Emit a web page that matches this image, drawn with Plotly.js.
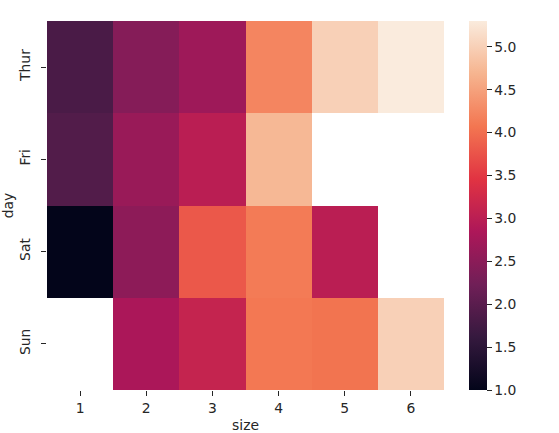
<!DOCTYPE html>
<html>
<head>
<meta charset="utf-8">
<script src="https://cdn.plot.ly/plotly-3.0.1.min.js"></script>
<style>html,body{margin:0;padding:0;background:#fff;}#chart{width:559px;height:433px;}</style>
</head>
<body>
<div id="chart"></div>
<script>
var days = ['Thur', 'Fri', 'Sat', 'Sun'];
var sizes = [1, 2, 3, 4, 5, 6];
var tipThur = [1.83, 2.44, 2.69, 4.22, 5.00, 5.30];
var tipFri  = [1.92, 2.64, 3.00, 4.73, null, null];
var tipSat  = [1.00, 2.52, 3.80, 4.12, 3.00, null];
var tipSun  = [null, 2.82, 3.12, 4.09, 4.05, 5.00];
var cbTicks = [1.0, 1.5, 2.0, 2.5, 3.0, 3.5, 4.0, 4.5, 5.0];

var rocket = [
  [0.0, '#03051a'],
  [0.142857, '#35193e'],
  [0.285714, '#701f57'],
  [0.428571, '#ad1759'],
  [0.571429, '#e13342'],
  [0.714286, '#f37651'],
  [0.857143, '#f6b48f'],
  [1.0, '#faebdd']
];

var font = {family: 'DejaVu Sans', size: 13.9, color: '#262626'};

var trace = {
  type: 'heatmap',
  x: sizes,
  y: days,
  z: [tipThur, tipFri, tipSat, tipSun],
  zmin: 1.0,
  zmax: 5.3,
  colorscale: rocket,
  hoverongaps: false,
  xgap: 0, ygap: 0,
  colorbar: {
    x: 1.063, xanchor: 'left', xpad: 0,
    y: 0.5, yanchor: 'middle', ypad: 0,
    len: 1, lenmode: 'fraction',
    thickness: 18,
    outlinewidth: 0,
    ticks: 'outside', ticklen: 5, tickwidth: 1, tickcolor: '#262626',
    tickvals: cbTicks,
    ticktext: cbTicks.map(function(v){return v.toFixed(1);}),
    tickfont: font
  }
};

var layout = {
  width: 559, height: 433,
  margin: {l: 47, r: 115, t: 21, b: 43, pad: 0},
  paper_bgcolor: '#ffffff',
  plot_bgcolor: '#ffffff',
  font: font,
  xaxis: {
    tickvals: sizes,
    ticktext: sizes.map(String),
    range: [0.5, 6.5],
    showgrid: false, zeroline: false, showline: false,
    ticks: 'outside', ticklen: 5, tickwidth: 1, tickcolor: '#262626',
    tickfont: font,
    title: {text: 'size', font: font, standoff: 6}
  },
  yaxis: {
    type: 'category',
    categoryorder: 'array', categoryarray: days,
    autorange: 'reversed',
    showgrid: false, zeroline: false, showline: false,
    ticks: 'outside', ticklen: 5, tickwidth: 1, tickcolor: '#262626',
    ticklabelstandoff: 5,
    tickangle: -90,
    tickfont: font,
    title: {text: 'day', font: font, standoff: 0}
  }
};

Plotly.newPlot('chart', [trace], layout, {displayModeBar: false, staticPlot: true});
</script>
</body>
</html>
